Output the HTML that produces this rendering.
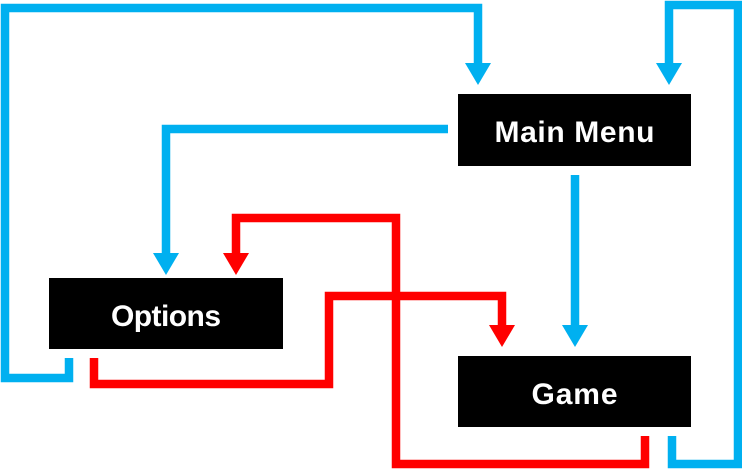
<!DOCTYPE html>
<html><head><style>
html,body{margin:0;padding:0;background:#fff;width:742px;height:469px;overflow:hidden}
svg{display:block}
text{font-family:"Liberation Sans",sans-serif;font-weight:bold;font-size:30px;fill:#fff}
</style></head><body>
<svg width="742" height="469" viewBox="0 0 742 469" xmlns="http://www.w3.org/2000/svg">
<g fill="none" stroke-width="8.5" stroke-linejoin="miter" stroke-linecap="butt">
<path d="M69 358 V378 H5 V8 H478 V64" stroke="#00b0f0"/>
<path d="M448 129 H166 V254" stroke="#00b0f0"/>
<path d="M575 175 V326" stroke="#00b0f0"/>
<path d="M672 436 V464 H738 V5 H669 V64" stroke="#00b0f0"/>
<path d="M645 436 V464 H396 V218 H236 V254" stroke="#ff0000"/>
<path d="M94 358 V384 H329 V296 H502 V326" stroke="#ff0000"/>
</g>
<g fill="#00b0f0">
<polygon points="465,63 491,63 478,85"/>
<polygon points="656,63 682,63 669,85"/>
<polygon points="153,253 179,253 166,275"/>
<polygon points="562,325 588,325 575,347"/>
</g>
<g fill="#ff0000">
<polygon points="223,253 249,253 236,275"/>
<polygon points="489,325 515,325 502,347"/>
</g>
<rect x="458" y="94" width="233" height="72" fill="#000"/>
<rect x="49" y="278" width="234" height="71" fill="#000"/>
<rect x="458" y="356" width="233" height="71" fill="#000"/>
<text x="574.5" y="142" text-anchor="middle" textLength="160">Main Menu</text>
<text x="166" y="326" text-anchor="middle" textLength="110">Options</text>
<text x="574.5" y="404" text-anchor="middle" textLength="86">Game</text>
</svg>
</body></html>
